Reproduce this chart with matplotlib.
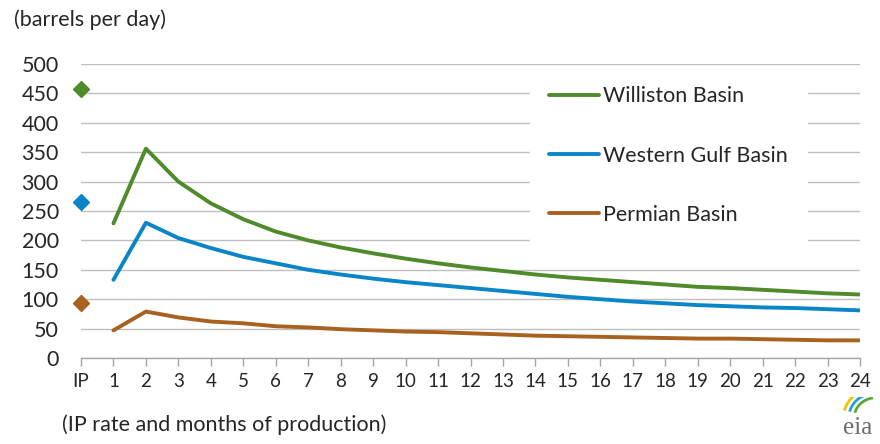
import matplotlib
matplotlib.use("Agg")
import matplotlib.pyplot as plt
from matplotlib.patches import Arc

plt.rcParams['font.family'] = ['Lato', 'DejaVu Sans']

# Category labels: initial production (IP) rate, then months of production
categories = ["IP"] + [str(m) for m in range(1, 25)]

# Initial production rates (barrels per day)
ip_williston = 457
ip_western_gulf = 265
ip_permian = 94

# Monthly production, months 1-24 (barrels per day)
williston = [229, 356, 300, 263, 236, 215, 200, 188, 178, 169, 161, 154,
             148, 142, 137, 133, 129, 125, 121, 119, 116, 113, 110, 108]
western_gulf = [133, 230, 204, 187, 172, 161, 150, 142, 135, 129, 124, 119,
                114, 109, 104, 100, 96, 93, 90, 88, 86, 85, 83, 81]
permian = [47, 79, 69, 62, 59, 54, 52, 49, 47, 45, 44, 42,
           40, 38, 37, 36, 35, 34, 33, 33, 32, 31, 30, 30]

series_names = ["Williston Basin", "Western Gulf Basin", "Permian Basin"]
colors = ["#4f8a2b", "#0a86c8", "#a8611f"]

fig = plt.figure(figsize=(8.8, 4.44), dpi=100)
ax = fig.add_axes([81 / 880, 1 - 358 / 444, (860 - 81) / 880, (358 - 64) / 444])

x_months = list(range(1, 25))
for name, ip, vals, c in zip(series_names,
                             [ip_williston, ip_western_gulf, ip_permian],
                             [williston, western_gulf, permian], colors):
    ax.plot(x_months, vals, color=c, lw=2.8, label=name, solid_capstyle="round",
            zorder=3)
    ax.plot([0], [ip], marker="D", color=c, markersize=8.5, ls="none", zorder=4,
            clip_on=False)

ax.set_xlim(0, 24)
ax.set_ylim(0, 500)
ax.set_yticks(range(0, 501, 50))
ax.set_xticks(range(0, 25))
ax.set_xticklabels(categories)

ax.grid(axis="y", color="#bfbfbf", lw=1.0)
ax.set_axisbelow(True)
for side in ["top", "right", "left"]:
    ax.spines[side].set_visible(False)
ax.spines["bottom"].set_color("#a6a6a6")
ax.spines["bottom"].set_linewidth(1.0)

ax.tick_params(axis="y", length=0, pad=16, labelsize=15.5, labelcolor="#262626")
ax.tick_params(axis="x", length=6, width=1, color="#a6a6a6", pad=5,
               labelsize=13.5, labelcolor="#262626")

leg = ax.legend(loc="upper left", bbox_to_anchor=(530 / 880, 1 - 67 / 444),
                bbox_transform=fig.transFigure, frameon=True, fontsize=15.5,
                handlelength=2.3, handletextpad=0.2, labelspacing=1.82,
                borderpad=0.9, borderaxespad=0)
leg.get_frame().set_edgecolor("white")
leg.get_frame().set_facecolor("white")
leg.get_frame().set_alpha(1)
for t in leg.get_texts():
    t.set_color("#262626")

fig.text(14 / 880, 1 - 20 / 444, "(barrels per day)", fontsize=15.5,
         color="#262626", va="center", ha="left")
fig.text(62 / 880, 1 - 425 / 444, "(IP rate and months of production)",
         fontsize=15.5, color="#262626", va="center", ha="left")

# eia logo
fig.text(858 / 880, 1 - 428 / 444, "eia", fontsize=18, color="#6b6b6b",
         ha="center", va="center", family="Liberation Serif")
logo_ax = fig.add_axes([840 / 880, 1 - 417 / 444, 36 / 880, 20 / 444])
logo_ax.set_xlim(0, 1)
logo_ax.set_ylim(0, 1)
logo_ax.axis("off")
for r, c in zip([0.9, 0.75, 0.6], ["#f2c300", "#2a9fd6", "#58a83a"]):
    logo_ax.add_patch(Arc((1.0, 0.0), 2 * r, 2 * r * 1.6, theta1=95, theta2=160,
                          color=c, lw=2))

fig.savefig("out.png", dpi=100)
